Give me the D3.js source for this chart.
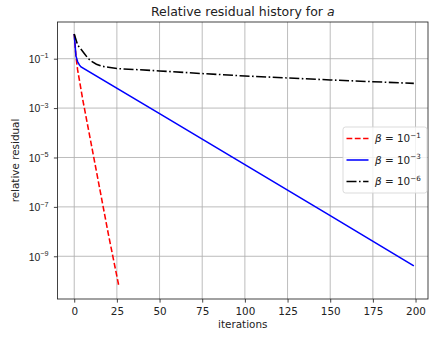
<!DOCTYPE html>
<html>
<head>
<meta charset="utf-8">
<script src="https://cdn.jsdelivr.net/npm/d3@7"></script>
<style>
  body { margin: 0; background: #fff; }
  svg { display: block; font-family: 'DejaVu Sans', sans-serif; }
</style>
</head>
<body>
<svg width="429" height="337"></svg>
<script>
// data
const redIter = [0, 1, 2, 5, 10, 15, 20, 26];
const redRes = [1, 0.13, 3.5e-2, 2.2e-3, 3.4e-5, 5.2e-7, 7.9e-9, 7e-11];

const blueIter = [0, 1, 2, 3, 4, 50, 100, 150, 199];
const blueRes = [1, 0.13, 0.075, 0.056, 0.046, 6.0e-4, 5.1e-6, 4.4e-8, 4.1e-10];

const blackIter = [0, 2, 4, 6, 8, 10, 13, 16, 20, 25, 50, 75, 100, 125, 150, 175, 199];
const blackRes = [1, 0.355, 0.24, 0.158, 0.105, 0.079, 0.060, 0.050, 0.045, 0.040,
                  0.032, 0.025, 0.020, 0.0166, 0.0138, 0.0117, 0.010];

const xTicks = [0, 25, 50, 75, 100, 125, 150, 175, 200];
const yTickExp = [-1, -3, -5, -7, -9];
const legendExp = ['−1', '−3', '−6'];

(function (d3) {
	'use strict';

	const svg = d3.select('svg');

	const left = 57.5, right = 428, top = 22, bottom = 299;
	const fs = 10.4;

	const x = d3.scaleLinear().domain([-9.8, 207.3]).range([left, right]);
	const y = d3.scaleLog().domain([Math.pow(10, -10.73), Math.pow(10, 0.486)]).range([bottom, top]);

	// grid
	const grid = svg.append('g').attr('stroke', '#b0b0b0').attr('stroke-width', 0.85);
	grid.selectAll('.gx').data(xTicks).enter().append('line')
		.attr('x1', d => x(d)).attr('x2', d => x(d))
		.attr('y1', top).attr('y2', bottom);
	grid.selectAll('.gy').data(yTickExp).enter().append('line')
		.attr('x1', left).attr('x2', right)
		.attr('y1', d => y(Math.pow(10, d))).attr('y2', d => y(Math.pow(10, d)));

	// lines
	const line = d3.line().x(d => x(d[0])).y(d => y(d[1]));
	const series = [
		{ it: redIter, res: redRes, color: '#ff0000', dash: '5.8,2.5' },
		{ it: blueIter, res: blueRes, color: '#0000ff', dash: null },
		{ it: blackIter, res: blackRes, color: '#000000', dash: '10,2.5,1.6,2.5' }
	];
	const plot = svg.append('g');
	series.forEach(s => {
		plot.append('path')
			.attr('d', line(d3.zip(s.it, s.res)))
			.attr('fill', 'none')
			.attr('stroke', s.color)
			.attr('stroke-width', 1.55)
			.attr('stroke-dasharray', s.dash);
	});

	// axes
	const xAxis = svg.append('g')
		.attr('transform', `translate(0, ${bottom})`)
		.call(d3.axisBottom(x).tickValues(xTicks).tickSize(3.6).tickPadding(5));
	xAxis.selectAll('text').attr('font-size', fs).attr('fill', '#222').attr('font-family', 'DejaVu Sans');

	const yAxis = svg.append('g')
		.attr('transform', `translate(${left}, 0)`)
		.call(d3.axisLeft(y).tickValues(yTickExp.map(e => Math.pow(10, e))).tickSize(3.6).tickFormat(''));
	yAxis.selectAll('.tick').append('text')
		.attr('x', -9).attr('dy', '0.36em')
		.attr('text-anchor', 'end')
		.attr('fill', '#222')
		.attr('font-size', fs)
		.each(function (d) {
			const t = d3.select(this);
			t.append('tspan').text('10');
			t.append('tspan').attr('dy', -4.5).attr('font-size', 7.2)
				.text('−' + Math.round(-Math.log10(d)));
		});

	[xAxis, yAxis].forEach(a => {
		a.select('.domain').remove();
		a.selectAll('line').attr('stroke', '#222').attr('stroke-width', 0.85);
	});

	// frame
	svg.append('rect')
		.attr('x', left).attr('y', top)
		.attr('width', right - left).attr('height', bottom - top)
		.attr('fill', 'none').attr('stroke', '#222').attr('stroke-width', 0.85);

	// labels
	const title = svg.append('text')
		.attr('x', (left + right) / 2).attr('y', 16)
		.attr('text-anchor', 'middle')
		.attr('font-size', 12.5)
		.attr('fill', '#222');
	title.append('tspan').text('Relative residual history for ');
	title.append('tspan').attr('font-style', 'italic').text('a');

	svg.append('text')
		.attr('x', (left + right) / 2).attr('y', 328)
		.attr('text-anchor', 'middle')
		.attr('font-size', fs).attr('fill', '#222')
		.text('iterations');

	svg.append('text')
		.attr('transform', `translate(18.5, ${(top + bottom) / 2}) rotate(-90)`)
		.attr('text-anchor', 'middle')
		.attr('font-size', fs).attr('fill', '#222')
		.text('relative residual');

	// legend
	const legend = svg.append('g').attr('transform', 'translate(343, 127)');
	legend.append('rect')
		.attr('width', 84).attr('height', 66)
		.attr('rx', 2.5)
		.attr('fill', 'white').attr('fill-opacity', 0.8)
		.attr('stroke', '#d5d5d5').attr('stroke-width', 0.85);

	const rows = legend.selectAll('.row').data(series).enter().append('g')
		.attr('transform', (d, i) => `translate(0, ${11.5 + i * 21.5})`);
	rows.append('line')
		.attr('x1', 3.5).attr('x2', 25.5)
		.attr('stroke', d => d.color)
		.attr('stroke-width', 1.55)
		.attr('stroke-dasharray', d => d.dash);
	const lt = rows.append('text')
		.attr('x', 32).attr('dy', '0.36em')
		.attr('font-size', fs).attr('fill', '#222');
	lt.append('tspan').attr('font-style', 'italic').text('β');
	lt.append('tspan').text(' = 10');
	lt.append('tspan').attr('dy', -4.5).attr('font-size', 7.2).text((d, i) => legendExp[i]);

}(d3));
</script>
</body>
</html>
